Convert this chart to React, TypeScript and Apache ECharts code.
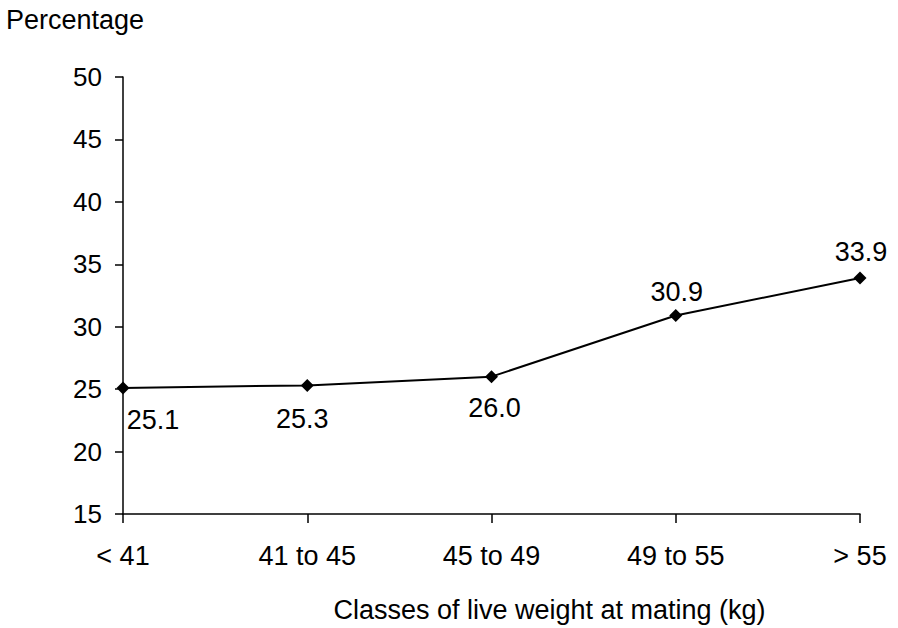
import React, { useEffect, useRef } from "react";
import * as echarts from "echarts";

const categories = ["< 41", "41 to 45", "45 to 49", "49 to 55", "> 55"];
const values = [25.1, 25.3, 26.0, 30.9, 33.9];
const labelTexts = ["25.1", "25.3", "26.0", "30.9", "33.9"];
const yMin = 15;
const yMax = 50;
const yInterval = 5;

const FONT = '"Liberation Sans", Arial, Helvetica, sans-serif';

export default function App() {
  const ref = useRef<HTMLDivElement>(null);
  useEffect(() => {
    document.body.style.margin = "0";
    const chart = echarts.init(ref.current!, null, { renderer: "svg" });
    const labelCfg = [
      { position: "bottom", distance: 12, offset: [30, 0] },
      { position: "bottom", distance: 14, offset: [-5, 0] },
      { position: "bottom", distance: 11, offset: [3, 0] },
      { position: "top", distance: 3, offset: [1, 0] },
      { position: "top", distance: 6, offset: [1, 0] },
    ];
    chart.setOption({
      animation: false,
      backgroundColor: "#ffffff",
      textStyle: { fontFamily: FONT, color: "#000" },
      grid: { left: 123, right: 38, top: 77, bottom: 111, containLabel: false },
      graphic: [
        {
          type: "text",
          left: 6,
          top: 6,
          style: { text: "Percentage", font: `27px ${FONT}`, fill: "#000" },
        },
      ],
      xAxis: {
        type: "category",
        data: categories,
        boundaryGap: false,
        axisLine: { show: true, lineStyle: { color: "#000", width: 1.5 } },
        axisTick: { show: true, alignWithLabel: true, length: 9, lineStyle: { color: "#000", width: 1.5 } },
        axisLabel: { color: "#000", fontSize: 27, fontFamily: FONT, margin: 28 },
        splitLine: { show: false },
        name: "Classes of live weight at mating (kg)",
        nameLocation: "middle",
        nameGap: 82,
        nameTextStyle: { color: "#000", fontSize: 27, fontFamily: FONT, padding: [0, 0, 0, 116] },
      },
      yAxis: {
        type: "value",
        min: yMin,
        max: yMax,
        interval: yInterval,
        axisLine: { show: true, lineStyle: { color: "#000", width: 1.5 } },
        axisTick: { show: true, length: 8, lineStyle: { color: "#000", width: 1.5 } },
        axisLabel: { color: "#000", fontSize: 26, fontFamily: FONT, margin: 21 },
        splitLine: { show: false },
      },
      series: [
        {
          type: "line",
          data: values.map((v, i) => ({
            value: v,
            label: {
              show: true,
              formatter: labelTexts[i],
              position: labelCfg[i].position,
              distance: labelCfg[i].distance,
              offset: labelCfg[i].offset,
              color: "#000",
              fontSize: 27,
              fontFamily: FONT,
            },
          })),
          symbol: "diamond",
          symbolSize: 13,
          itemStyle: { color: "#000" },
          lineStyle: { color: "#000", width: 2 },
        },
      ],
    });
    return () => chart.dispose();
  }, []);
  return <div ref={ref} style={{ width: 898, height: 628 }} />;
}
